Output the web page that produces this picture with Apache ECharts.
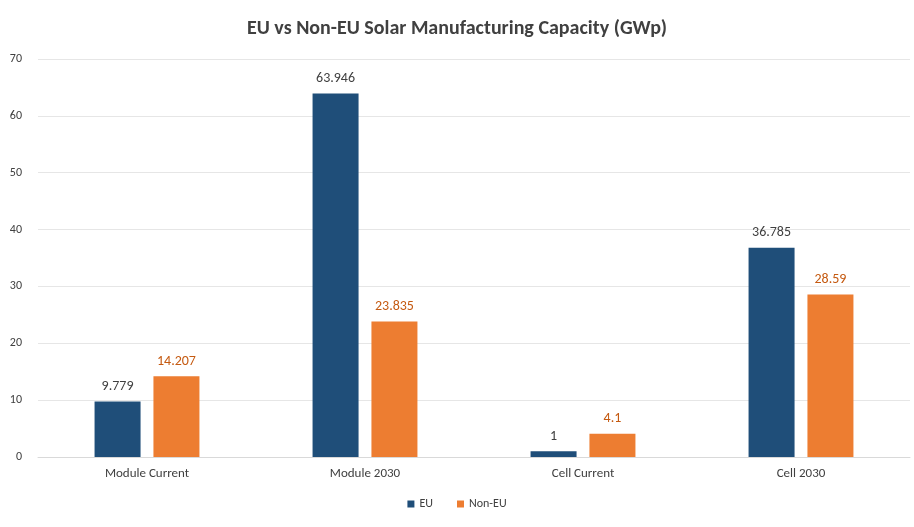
<!DOCTYPE html>
<html>
<head>
    <meta charset="utf-8">
    <script src="https://cdn.jsdelivr.net/npm/echarts@6/dist/echarts.min.js"></script>
</head>
<body style="margin:0">
<div id="main" style="width: 914px; height: 527px;"></div>
<script type="text/javascript">
    var categories = ['Module Current', 'Module 2030', 'Cell Current', 'Cell 2030'];
    var euValues = [9.779, 63.946, 1, 36.785];
    var nonEuValues = [14.207, 23.835, 4.1, 28.59];

    var chart = echarts.init(document.getElementById('main'));
    var option = {
        backgroundColor: '#fff',
        textStyle: { fontFamily: 'Calibri, Carlito, "Liberation Sans", sans-serif' },
        title: {
            text: 'EU vs Non-EU Solar Manufacturing Capacity (GWp)',
            left: 'center',
            top: 14,
            textStyle: { fontSize: 20, fontWeight: 'bold', color: '#404040' }
        },
        legend: {
            bottom: 12,
            itemWidth: 7,
            itemHeight: 7,
            itemGap: 24,
            icon: 'rect',
            textStyle: { fontSize: 12, color: '#404040' },
            data: ['EU', 'Non-EU']
        },
        grid: { left: 38, right: 4, top: 59, bottom: 70 },
        xAxis: {
            type: 'category',
            data: categories,
            axisTick: { show: false },
            axisLine: { lineStyle: { color: '#d9d9d9' } },
            axisLabel: { color: '#404040', fontSize: 13, margin: 10 }
        },
        yAxis: {
            type: 'value',
            min: 0,
            max: 70,
            interval: 10,
            axisLabel: { color: '#404040', fontSize: 12, margin: 16 },
            splitLine: { lineStyle: { color: '#e6e6e6' } }
        },
        series: [{
            name: 'EU',
            type: 'bar',
            data: euValues,
            barWidth: 46,
            barGap: '28%',
            itemStyle: { color: '#1F4E79' },
            label: { show: true, position: 'top', color: '#404040', fontSize: 14, distance: 8 }
        }, {
            name: 'Non-EU',
            type: 'bar',
            data: nonEuValues,
            barWidth: 46,
            itemStyle: { color: '#ED7D31' },
            label: { show: true, position: 'top', color: '#C55A11', fontSize: 14, distance: 8 }
        }]
    };
    chart.setOption(option);
</script>
</body>
</html>
